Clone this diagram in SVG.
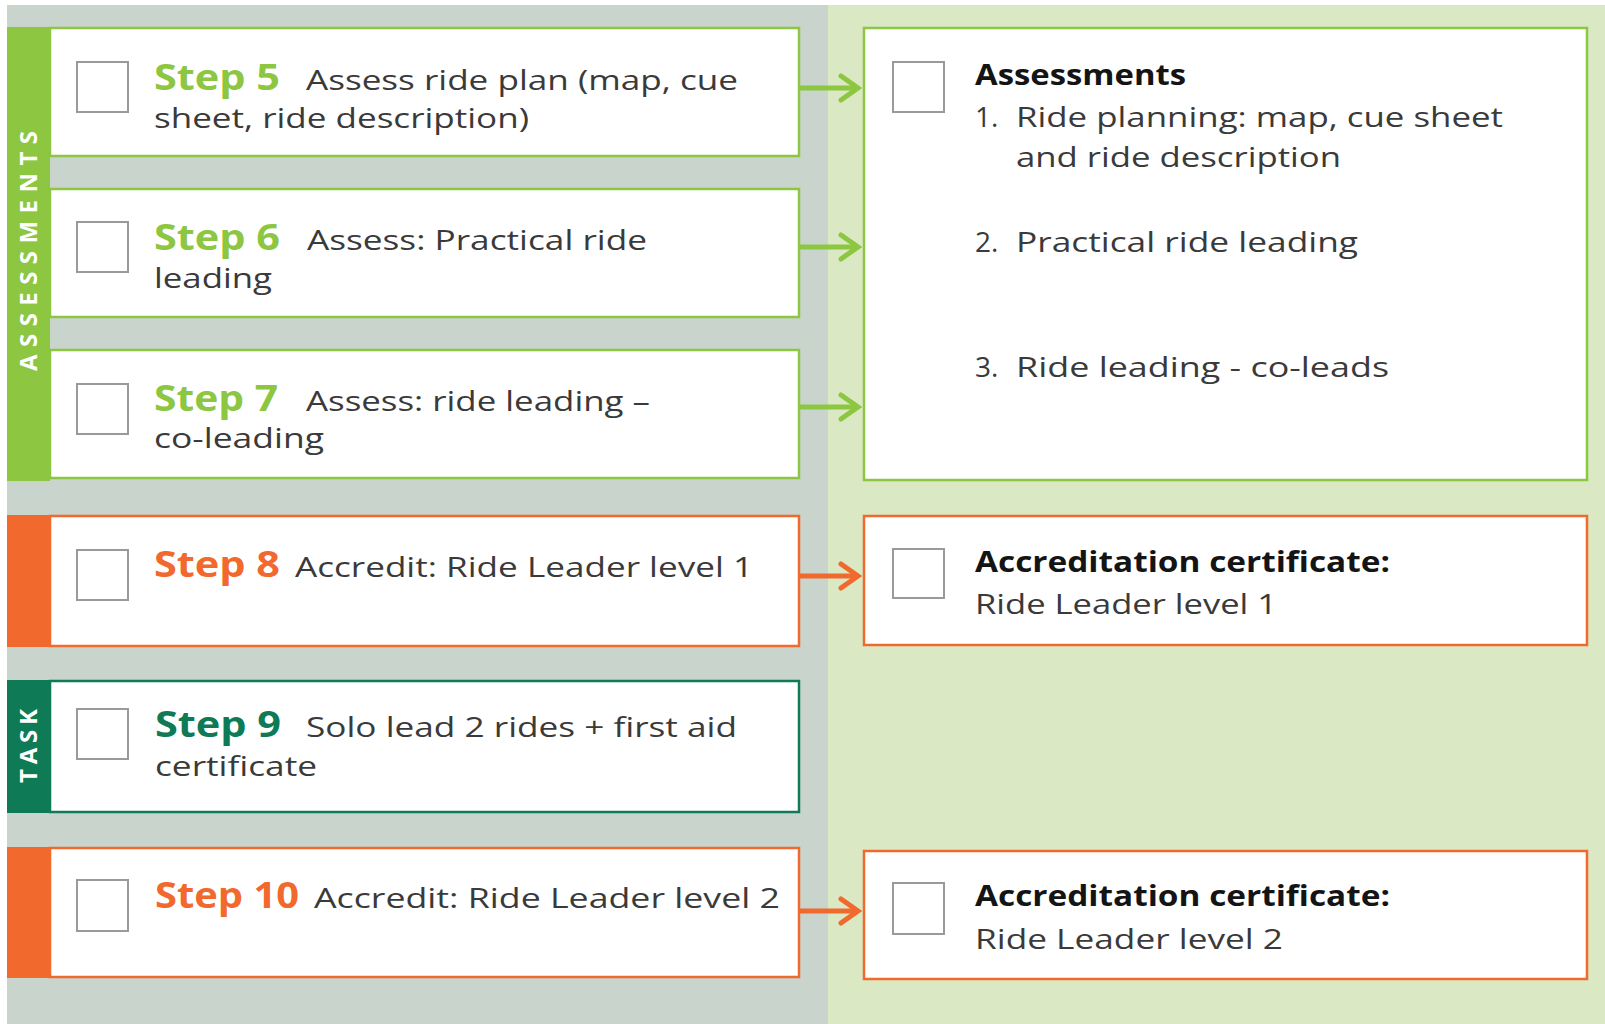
<svg xmlns="http://www.w3.org/2000/svg" width="1605" height="1024" viewBox="0 0 1605 1024">
  <style>
    .bg-left { fill: #c9d4cd; }
    .bg-right { fill: #dae9c4; }
    .card { fill: #ffffff; stroke-width: 2.5; }
    .c-green { stroke: #8dc641; }
    .c-orange { stroke: #f1692d; }
    .c-teal { stroke: #0f7a56; }
    .bar-green { fill: #8dc641; }
    .bar-orange { fill: #f1692d; }
    .bar-teal { fill: #0f7a56; }
    .check { fill: #ffffff; stroke: #9a9a9a; stroke-width: 2; }
    text { font-family: "Open Sans", "Liberation Sans", sans-serif; }
    .step { font-size: 35px; font-weight: 700; }
    .s-green { fill: #8dc641; }
    .s-orange { fill: #f1692d; }
    .s-teal { fill: #0f7a56; }
    .desc { font-size: 28px; fill: #3a3a3a; }
    .head { font-size: 28px; font-weight: 700; fill: #141414; }
    .side { font-size: 24px; font-weight: 700; fill: #ffffff; }
    .link { fill: none; stroke-width: 5; }
    .link-green { stroke: #8dc641; }
    .link-orange { stroke: #f1692d; }
  </style>
  <defs>
    <marker id="chev-green" markerUnits="userSpaceOnUse" viewBox="0 0 24 30" markerWidth="24" markerHeight="30" refX="20" refY="15" orient="auto">
      <path d="M3 3 L20 15 L3 27" fill="none" stroke="#8dc641" stroke-width="5" stroke-linecap="round" stroke-linejoin="miter"/>
    </marker>
    <marker id="chev-orange" markerUnits="userSpaceOnUse" viewBox="0 0 24 30" markerWidth="24" markerHeight="30" refX="20" refY="15" orient="auto">
      <path d="M3 3 L20 15 L3 27" fill="none" stroke="#f1692d" stroke-width="5" stroke-linecap="round" stroke-linejoin="miter"/>
    </marker>
  </defs>

  <!-- background panels -->
  <rect width="1605" height="1024" fill="#ffffff"/>
  <rect class="bg-left" x="7" y="5" width="821" height="1019"/>
  <rect class="bg-right" x="828" y="5" width="777" height="1019"/>

  <!-- connectors -->
  <g id="connectors">
    <path class="link link-green" d="M799 88 H858" marker-end="url(#chev-green)"/>
    <path class="link link-green" d="M799 247 H858" marker-end="url(#chev-green)"/>
    <path class="link link-green" d="M799 407 H858" marker-end="url(#chev-green)"/>
    <path class="link link-orange" d="M799 576 H858" marker-end="url(#chev-orange)"/>
    <path class="link link-orange" d="M799 911 H858" marker-end="url(#chev-orange)"/>
  </g>

  <!-- category bars -->
  <g id="band-assessments">
    <rect class="bar-green" x="7" y="27" width="43" height="454"/>
    <text class="side" transform="translate(37,251) rotate(-90)" text-anchor="middle" textLength="240" lengthAdjust="spacing">ASSESSMENTS</text>
  </g>

  <g id="step5">
    <rect class="card c-green" x="50" y="28" width="749" height="128"/>
    <rect class="check" x="77" y="62" width="51" height="50"/>
    <text class="step s-green" x="154" y="90" textLength="126" lengthAdjust="spacingAndGlyphs">Step 5</text>
    <text class="desc" x="306" y="90" textLength="432" lengthAdjust="spacingAndGlyphs">Assess ride plan (map, cue</text>
    <text class="desc" x="154" y="128" textLength="375" lengthAdjust="spacingAndGlyphs">sheet, ride description)</text>
  </g>

  <g id="step6">
    <rect class="card c-green" x="50" y="189" width="749" height="128"/>
    <rect class="check" x="77" y="222" width="51" height="50"/>
    <text class="step s-green" x="154" y="250" textLength="126" lengthAdjust="spacingAndGlyphs">Step 6</text>
    <text class="desc" x="307" y="250" textLength="340" lengthAdjust="spacingAndGlyphs">Assess: Practical ride</text>
    <text class="desc" x="154" y="288" textLength="118" lengthAdjust="spacingAndGlyphs">leading</text>
  </g>

  <g id="step7">
    <rect class="card c-green" x="50" y="350" width="749" height="128"/>
    <rect class="check" x="77" y="384" width="51" height="50"/>
    <text class="step s-green" x="154" y="411" textLength="124" lengthAdjust="spacingAndGlyphs">Step 7</text>
    <text class="desc" x="306" y="411" textLength="344" lengthAdjust="spacingAndGlyphs">Assess: ride leading –</text>
    <text class="desc" x="154" y="448" textLength="170" lengthAdjust="spacingAndGlyphs">co-leading</text>
  </g>

  <g id="step8">
    <rect class="card c-orange" x="50" y="516" width="749" height="130"/>
    <rect class="bar-orange" x="7" y="515" width="43" height="132"/>
    <rect class="check" x="77" y="550" width="51" height="50"/>
    <text class="step s-orange" x="154" y="577" textLength="126" lengthAdjust="spacingAndGlyphs">Step 8</text>
    <text class="desc" x="295" y="577" textLength="458" lengthAdjust="spacingAndGlyphs">Accredit: Ride Leader level 1</text>
  </g>

  <g id="step9">
    <rect class="card c-teal" x="50" y="681" width="749" height="131"/>
    <rect class="bar-teal" x="7" y="680" width="43" height="133"/>
    <text class="side" transform="translate(37,746) rotate(-90)" text-anchor="middle" textLength="74" lengthAdjust="spacing">TASK</text>
    <rect class="check" x="77" y="709" width="51" height="50"/>
    <text class="step s-teal" x="155" y="737" textLength="126" lengthAdjust="spacingAndGlyphs">Step 9</text>
    <text class="desc" x="306" y="737" textLength="431" lengthAdjust="spacingAndGlyphs">Solo lead 2 rides + first aid</text>
    <text class="desc" x="155" y="776" textLength="162" lengthAdjust="spacingAndGlyphs">certificate</text>
  </g>

  <g id="step10">
    <rect class="card c-orange" x="50" y="848" width="749" height="129"/>
    <rect class="bar-orange" x="7" y="847" width="43" height="131"/>
    <rect class="check" x="77" y="880" width="51" height="51"/>
    <text class="step s-orange" x="155" y="908" textLength="144" lengthAdjust="spacingAndGlyphs">Step 10</text>
    <text class="desc" x="314" y="908" textLength="466" lengthAdjust="spacingAndGlyphs">Accredit: Ride Leader level 2</text>
  </g>

  <g id="assessments">
    <rect class="card c-green" x="864" y="28" width="723" height="452"/>
    <rect class="check" x="893" y="62" width="51" height="50"/>
    <text class="head" x="975" y="85" textLength="211" lengthAdjust="spacingAndGlyphs">Assessments</text>
    <text class="desc" x="975" y="127">1.</text>
    <text class="desc" x="1016" y="127" textLength="487" lengthAdjust="spacingAndGlyphs">Ride planning: map, cue sheet</text>
    <text class="desc" x="1016" y="167" textLength="325" lengthAdjust="spacingAndGlyphs">and ride description</text>
    <text class="desc" x="975" y="252">2.</text>
    <text class="desc" x="1016" y="252" textLength="342" lengthAdjust="spacingAndGlyphs">Practical ride leading</text>
    <text class="desc" x="975" y="377">3.</text>
    <text class="desc" x="1016" y="377" textLength="373" lengthAdjust="spacingAndGlyphs">Ride leading - co-leads</text>
  </g>

  <g id="cert-level1">
    <rect class="card c-orange" x="864" y="516" width="723" height="129"/>
    <rect class="check" x="893" y="549" width="51" height="49"/>
    <text class="head" x="975" y="572" textLength="415" lengthAdjust="spacingAndGlyphs">Accreditation certificate:</text>
    <text class="desc" x="975" y="614" textLength="302" lengthAdjust="spacingAndGlyphs">Ride Leader level 1</text>
  </g>

  <g id="cert-level2">
    <rect class="card c-orange" x="864" y="851" width="723" height="128"/>
    <rect class="check" x="893" y="883" width="51" height="51"/>
    <text class="head" x="975" y="906" textLength="415" lengthAdjust="spacingAndGlyphs">Accreditation certificate:</text>
    <text class="desc" x="975" y="949" textLength="308" lengthAdjust="spacingAndGlyphs">Ride Leader level 2</text>
  </g>
</svg>
